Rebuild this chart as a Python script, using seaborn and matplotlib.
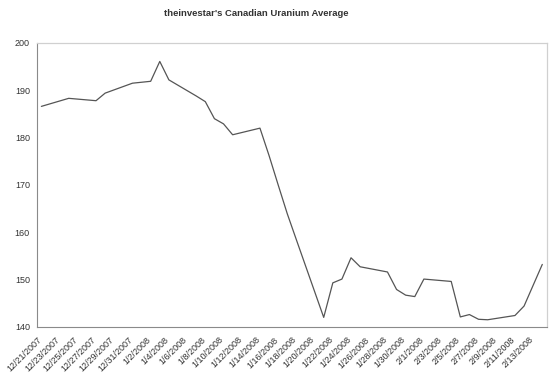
import pandas as pd
import seaborn as sns
import matplotlib.pyplot as plt
import matplotlib.dates as mdates

# Canadian uranium average index, daily closes
dates = ['2007-12-21', '2007-12-24', '2007-12-27', '2007-12-28', '2007-12-31',
         '2008-01-02', '2008-01-03', '2008-01-04', '2008-01-07', '2008-01-08',
         '2008-01-09', '2008-01-10', '2008-01-11', '2008-01-14', '2008-01-15',
         '2008-01-16', '2008-01-17', '2008-01-18', '2008-01-21', '2008-01-22',
         '2008-01-23', '2008-01-24', '2008-01-25', '2008-01-28', '2008-01-29',
         '2008-01-30', '2008-01-31', '2008-02-01', '2008-02-04', '2008-02-05',
         '2008-02-06', '2008-02-07', '2008-02-08', '2008-02-11', '2008-02-12',
         '2008-02-13', '2008-02-14']
values = [186.6, 188.3, 187.8, 189.4, 191.5,
          191.9, 196.1, 192.2, 188.8, 187.6,
          184.0, 182.9, 180.6, 182.0, 176.2,
          170.0, 163.9, 158.4, 142.0, 149.3,
          150.1, 154.6, 152.7, 151.6, 147.9,
          146.7, 146.4, 150.1, 149.6, 142.1,
          142.6, 141.6, 141.5, 142.4, 144.4,
          148.8, 153.2]

tick_labels = ['12/21/2007', '12/23/2007', '12/25/2007', '12/27/2007', '12/29/2007',
               '12/31/2007', '1/2/2008', '1/4/2008', '1/6/2008', '1/8/2008',
               '1/10/2008', '1/12/2008', '1/14/2008', '1/16/2008', '1/18/2008',
               '1/20/2008', '1/22/2008', '1/24/2008', '1/26/2008', '1/28/2008',
               '1/30/2008', '2/1/2008', '2/3/2008', '2/5/2008', '2/7/2008',
               '2/9/2008', '2/11/2008', '2/13/2008']
y_ticks = [140, 150, 160, 170, 180, 190, 200]

df = pd.DataFrame({'Date': pd.to_datetime(dates), 'Value': values})
# excel draws each day in the middle of its slot
df['Pos'] = df['Date'] + pd.Timedelta(hours=12)

sns.set_style('white')
plt.rcParams['font.family'] = ['Liberation Sans', 'DejaVu Sans']

fig, ax = plt.subplots(figsize=(5.58, 3.77), dpi=100)
fig.subplots_adjust(left=0.066, right=0.980, top=0.886, bottom=0.133)

sns.lineplot(data=df, x='Pos', y='Value', ax=ax, color='#555555', linewidth=0.9)

start = pd.Timestamp('2007-12-21')
ax.set_xlim(start, start + pd.Timedelta(days=56))
ax.set_ylim(140, 200)

tick_pos = [start + pd.Timedelta(days=2 * i) for i in range(len(tick_labels))]
ax.set_xticks(tick_pos)
ax.set_xticklabels(tick_labels, rotation=45, ha='right', rotation_mode='anchor',
                   fontsize=6.5, color='#333333')
ax.set_yticks(y_ticks)
ax.set_yticklabels([str(v) for v in y_ticks], fontsize=6.5, color='#333333')

ax.tick_params(axis='both', direction='out', length=3, width=0.6, color='#888888', pad=2)
ax.tick_params(axis='x', pad=3)
ax.set_xlabel('')
ax.set_ylabel('')

for side in ['left', 'bottom']:
    ax.spines[side].set_color('#8a8a8a')
    ax.spines[side].set_linewidth(0.8)
for side in ['top', 'right']:
    ax.spines[side].set_color('#d0d0d0')
    ax.spines[side].set_linewidth(0.9)

fig.text(0.459, 0.963, "theinvestar's Canadian Uranium Average", ha='center', va='center',
         fontsize=6.8, fontweight='bold', color='#333333')

plt.savefig('out.png', dpi=100)
